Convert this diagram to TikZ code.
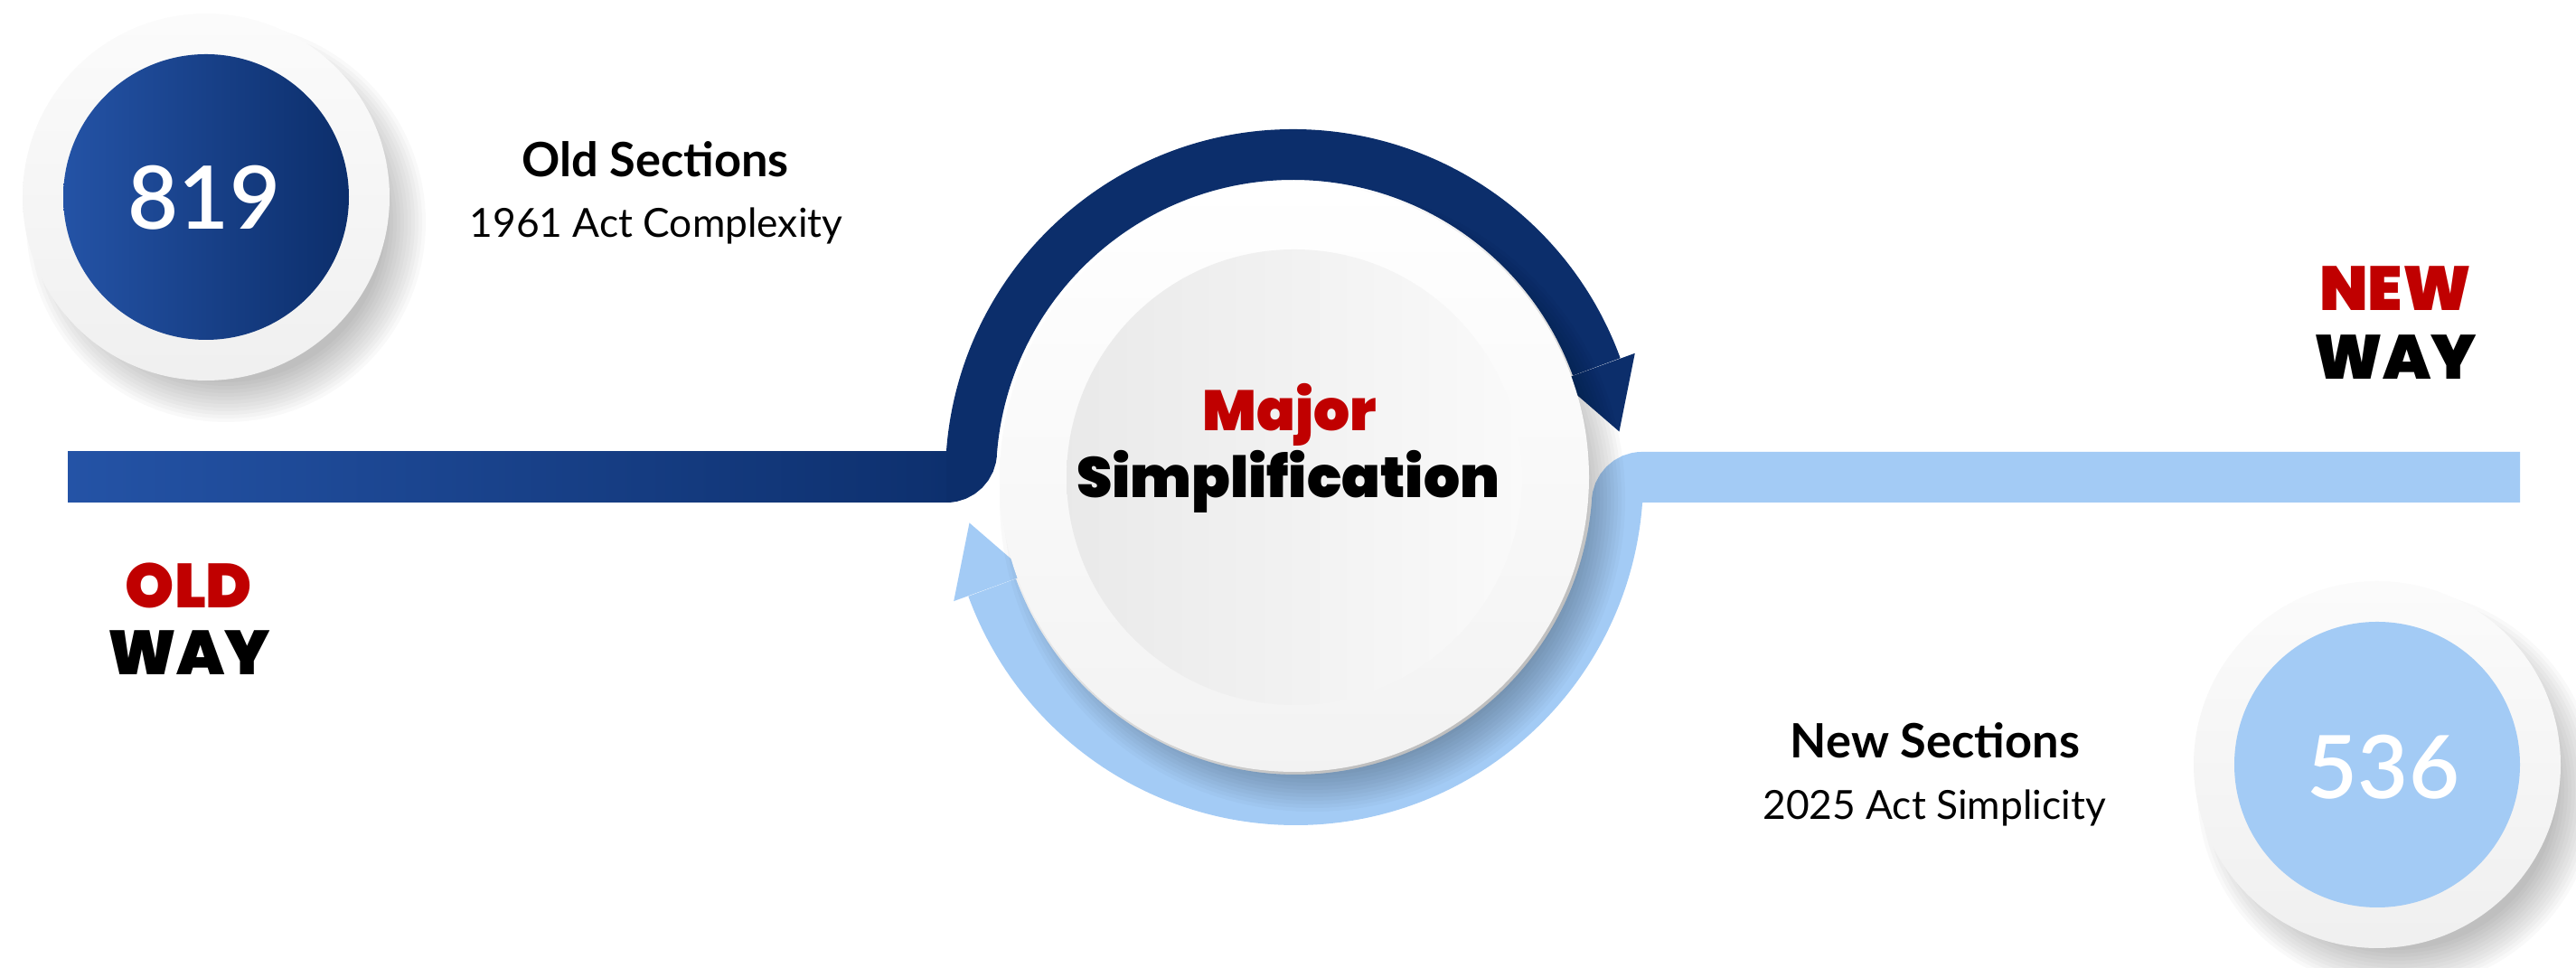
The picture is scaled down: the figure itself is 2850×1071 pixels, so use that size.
\documentclass[tikz,border=0pt]{standalone}
\usepackage{fontspec}
\setmainfont{Lato}
\IfFontExistsTF{Poppins Black}{\newfontfamily\heavyfont{Poppins Black}}{%
  \IfFontExistsTF{Poppins ExtraBold}{\newfontfamily\heavyfont{Poppins ExtraBold}}{%
    \newfontfamily\heavyfont{Poppins}[UprightFont=* Bold]}}
\IfFontExistsTF{Lato Semibold}{\newfontfamily\numfont{Lato Semibold}}{%
  \IfFontExistsTF{Lato Medium}{\newfontfamily\numfont{Lato Medium}}{%
    \newfontfamily\numfont{Lato}[FakeBold=1.2]}}

\definecolor{navy}{HTML}{0C2E6B}
\definecolor{oldblue}{HTML}{2453A6}
\definecolor{skyblue}{HTML}{A3CBF5}
\definecolor{alert}{HTML}{C00000}

\tikzstyle{track}=[line width=0.56cm]
\tikzstyle{heading}=[anchor=base,inner sep=0pt,font=\heavyfont\fontsize{19.6pt}{22pt}\selectfont]
\tikzstyle{bigheading}=[heading,font=\heavyfont\fontsize{17.9pt}{20pt}\selectfont]
\tikzstyle{caption}=[anchor=base,inner sep=0pt,font=\bfseries\fontsize{14.9pt}{17pt}\selectfont]
\tikzstyle{subcaption}=[anchor=base,inner sep=0pt,font=\fontsize{12.6pt}{15pt}\selectfont]
\tikzstyle{number}=[inner sep=0pt,white,font=\numfont\fontsize{27.5pt}{30pt}\selectfont]

\begin{document}
\begin{tikzpicture}[x=0.01cm,y=0.01cm]
	\useasboundingbox (0,0) rectangle (2850,1071);
	\coordinate (hub) at (1432,543);
	\coordinate (oldc) at (228,853);
	\coordinate (newc) at (2630,225);
	
	% old track, turning up into the upper loop
	\draw[track,navy] (75,543) -- (1047,543) arc[start angle=-90,end angle=0,radius=28]
		arc[start angle=175.5,end angle=20,radius=357];
	\shade[left color=oldblue,right color=navy!95!oldblue] (75,515) rectangle (1047,571);
	\fill[navy,shift={(hub)}] (20:313) -- (20:401) -- (8:363) -- cycle;
	
	% new track, turning down into the lower loop
	\draw[track,skyblue] (2788,543) -- (1817,543) arc[start angle=90,end angle=180,radius=28]
		arc[start angle=-4.5,end angle=-160,radius=357];
	\fill[skyblue,shift={(hub)}] (-160:313) -- (-160:401) -- (-172:363) -- cycle;
	
	% middle disc
	\foreach \i in {0,...,11}
		\fill[black,opacity=0.025,shift={(hub)}] (20,-24) circle ({346-4*\i});
	\shade[top color=white,bottom color=gray!10] (hub) circle (326);
	\shade[left color=gray!17,right color=gray!4] (hub) circle (252);
	\node[bigheading,alert] (major) at (1427,594) {Major};
	\node[bigheading] (simple) at (1425,520) {Simplification};
	
	% old count
	\foreach \i in {0,...,11}
		\fill[black,opacity=0.025,shift={(oldc)}] (22,-28) circle ({221-4*\i});
	\shade[top color=gray!3,bottom color=gray!12] (oldc) circle (203);
	\shade[left color=oldblue,right color=navy] (oldc) circle (158);
	\node[number] (oldnum) at (226,852) {819};
	\node[caption] (oldsec) at (725,875) {Old Sections};
	\node[subcaption] (oldsub) at (726,808) {1961 Act Complexity};
	\node[heading,alert] (old) at (209,398) {OLD};
	\node[heading] (oldway) at (209,324) {WAY};
	
	% new count
	\foreach \i in {0,...,11}
		\fill[black,opacity=0.025,shift={(newc)}] (22,-28) circle ({221-4*\i});
	\shade[top color=gray!3,bottom color=gray!12] (newc) circle (203);
	\fill[skyblue] (newc) circle (158);
	\node[number] (newnum) at (2637,222) {536};
	\node[caption] (newsec) at (2141,232) {New Sections};
	\node[subcaption] (newsub) at (2140,164) {2025 Act Simplicity};
	\node[heading,alert] (new) at (2650,727) {NEW};
	\node[heading] (newway) at (2650,651) {WAY};
\end{tikzpicture}
\end{document}
